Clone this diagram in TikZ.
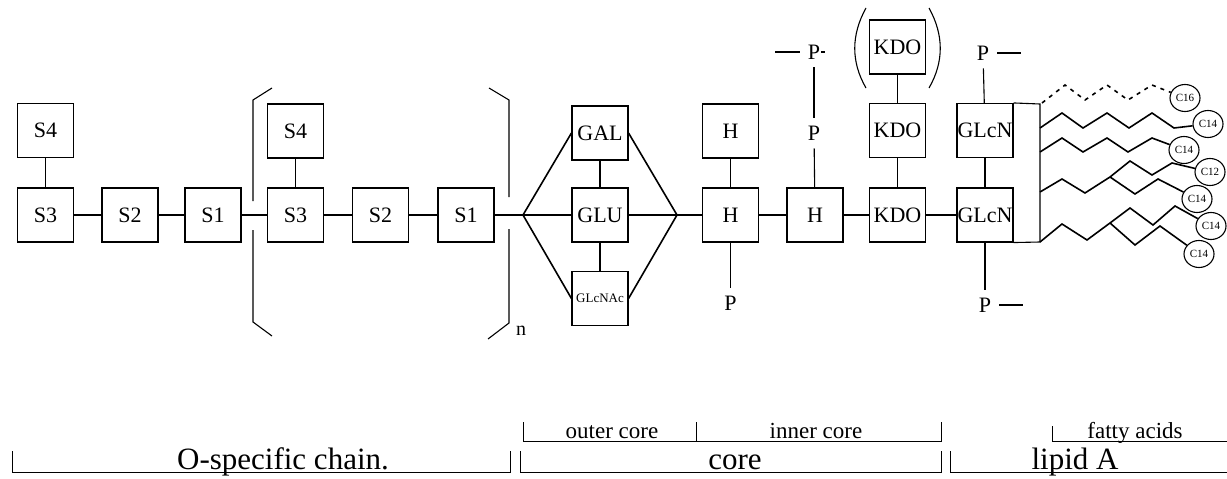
\documentclass[tikz,border=0pt]{standalone}
\usepackage{fontspec}
\setmainfont{Liberation Serif}
\usetikzlibrary{shapes.geometric}
\begin{document}
\begin{tikzpicture}[x=1pt,y=-1pt,
  box/.style={draw,line width=1.1pt,minimum width=56pt,minimum height=54pt,inner sep=0pt,font=\fontsize{22}{24}\selectfont},
  plbl/.style={inner sep=8pt,font=\fontsize{22}{24}\selectfont},
  ln/.style={line width=1.1pt},
  dia/.style={line width=1.6pt},
  chain/.style={line width=1.6pt,line join=miter},
  fa/.style={ellipse,draw,line width=1.1pt,fill=white,minimum width=30pt,minimum height=27pt,inner sep=0pt,font=\fontsize{11}{12}\selectfont},
  brk/.style={line width=1pt},
  smalllbl/.style={inner sep=0pt,anchor=base,font=\fontsize{23}{25}\selectfont},
  biglbl/.style={inner sep=0pt,anchor=base,font=\fontsize{31}{33}\selectfont}
]
\useasboundingbox (0,0) rectangle (1227,479);

% O-specific chain
\node[box] (s4a) at (45.5,130.5) {S4};
\node[box] (s3a) at (45.5,215) {S3};
\node[box] (s2a) at (130,215) {S2};
\node[box] (s1a) at (213,215) {S1};
\node[box] (s4b) at (295.5,131) {S4};
\node[box] (s3b) at (295.5,215) {S3};
\node[box] (s2b) at (380.5,215) {S2};
\node[box] (s1b) at (466,215) {S1};

% core
\node[box] (gal) at (600,133) {GAL};
\node[box] (glu) at (600,215) {GLU};
\node[box,font=\fontsize{13}{14}\selectfont] (gn) at (600,298.5) {GLcNAc};
\node[box] (ht) at (730.5,131) {H};
\node[box] (hm) at (730.5,215) {H};
\node[box] (h2) at (815,215) {H};
\node[box] (kdo1) at (897.5,215) {KDO};
\node[box] (kdo2) at (897.5,130.5) {KDO};
\node[box] (kdo3) at (897.5,47) {KDO};

% lipid A
\node[box] (glcn1) at (985,130.5) {GLcN};
\node[box] (glcn2) at (985,215) {GLcN};

% P labels
\node[plbl] (phb) at (730.5,303) {P};
\node[plbl] (ph2m) at (814,133) {P};
\node[plbl] (ptop) at (814,52) {P};
\node[plbl] (pg1) at (983,53) {P};
\node[plbl] (pg2) at (985,305) {P};

\coordinate (L) at (523,215);
\coordinate (R) at (677,215);

% connectors
\draw[ln] (s4a) -- (s3a);
\draw[ln] (s3a) -- (s2a);
\draw[ln] (s2a) -- (s1a);
\draw[ln] (s1a) -- (s3b);
\draw[ln] (s4b) -- (s3b);
\draw[ln] (s3b) -- (s2b);
\draw[ln] (s2b) -- (s1b);
\draw[ln] (s1b) -- (L);
\draw[dia] (gal.west) -- (L) -- (gn.west);
\draw[dia] (gal.east) -- (R) -- (gn.east);
\draw[ln] (L) -- (glu);
\draw[ln] (glu) -- (R);
\draw[ln] (gal) -- (glu);
\draw[ln] (glu) -- (gn);
\draw[ln] (R) -- (hm);
\draw[ln] (ht) -- (hm);
\draw[ln] (hm) -- (phb);
\draw[ln] (hm) -- (h2);
\draw[ln] (h2) -- (ph2m);
\draw[ln] (ph2m) -- (ptop);
\draw[ln] (ptop.west) -- ++(-25,0);
\draw[ln] ([xshift=-7pt]ptop.east) -- ++(4,0);
\draw[ln] (h2) -- (kdo1);
\draw[ln] (kdo1) -- (kdo2);
\draw[ln] (kdo2) -- (kdo3);
\draw[ln] (kdo1) -- (glcn2);
\draw[ln] (glcn1) -- (glcn2);
\draw[ln] (glcn1) -- (pg1);
\draw[ln] (pg1.east) -- ++(24,0);
\draw[ln] (glcn2) -- (pg2);
\draw[ln] (pg2.east) -- ++(24,0);
\draw[ln] (glcn1.north east) -- (1040,104) -- (1040,242) -- (glcn2.south east);

% brackets
\draw[ln] (272,88) -- (253,100) -- (253,201);
\draw[ln] (253,230) -- (253,322) -- (272,336);
\draw[ln] (489,88) -- (509,100) -- (509,197);
\draw[ln] (509,229) -- (509,323) -- (488,339);
\node[inner sep=0pt,font=\fontsize{20}{22}\selectfont] (nsub) at (521,331) {n};

% parentheses around KDO
\draw[ln] (866,8) .. controls (851,35) and (851,62) .. (866,88);
\draw[ln] (929,8) .. controls (944,35) and (944,62) .. (929,88);

% fatty acids
\node[fa] (c16) at (1185,98) {C16};
\node[fa] (c14a) at (1208,124) {C14};
\node[fa] (c14b) at (1184,150) {C14};
\node[fa] (c12) at (1210,172) {C12};
\node[fa] (c14c) at (1197,199) {C14};
\node[fa] (c14d) at (1211,226) {C14};
\node[fa] (c14e) at (1199,254) {C14};

\draw[chain,dash pattern=on 4pt off 5pt] (1042,103) -- (1065,85) -- (1085,100) -- (1107,85) -- (1128,100) -- (1152,85) -- (c16);
\draw[chain] (1040,128) -- (1062,113) -- (1083,128) -- (1107,113) -- (1129,128) -- (1152,113) -- (1174,128) -- (c14a);
\draw[chain] (1040,152) -- (1062,138) -- (1083,152) -- (1107,138) -- (1128,152) -- (1152,138) -- (c14b);
\coordinate (b3) at (1110,177);
\draw[chain] (1040,192) -- (1062,179) -- (1085,193) -- (b3) -- (1130,161) -- (1152,175) -- (1172,163) -- (c12);
\draw[chain] (b3) -- (1135,194) -- (1158,179) -- (c14c);
\coordinate (b4) at (1110,223);
\draw[chain] (1040,242) -- (1062,224) -- (1087,240) -- (b4) -- (1130,208) -- (1153,225) -- (1175,206) -- (c14d);
\draw[chain] (b4) -- (1135,245) -- (1160,226) -- (c14e);

% bottom labels
\draw[brk] (12,451) -- (12,472) -- (510,472) -- (510,451);
\node[biglbl] (lo) at (283,469) {O-specific chain.};
\draw[brk] (520,451) -- (520,472) -- (941,472) -- (941,451);
\node[biglbl] (lc) at (735,469) {core};
\draw[brk] (950,451) -- (950,472) -- (1227,472);
\node[biglbl] (ll) at (1075,469) {lipid A};
\draw[brk] (523,422) -- (523,441) -- (941,441) -- (941,422);
\draw[brk] (696,422) -- (696,441);
\node[smalllbl] (lout) at (612,438) {outer core};
\node[smalllbl] (lin) at (816,438) {inner core};
\draw[brk] (1052,426) -- (1052,441) -- (1227,441);
\node[smalllbl] (lfa) at (1135,438) {fatty acids};
\end{tikzpicture}
\end{document}
